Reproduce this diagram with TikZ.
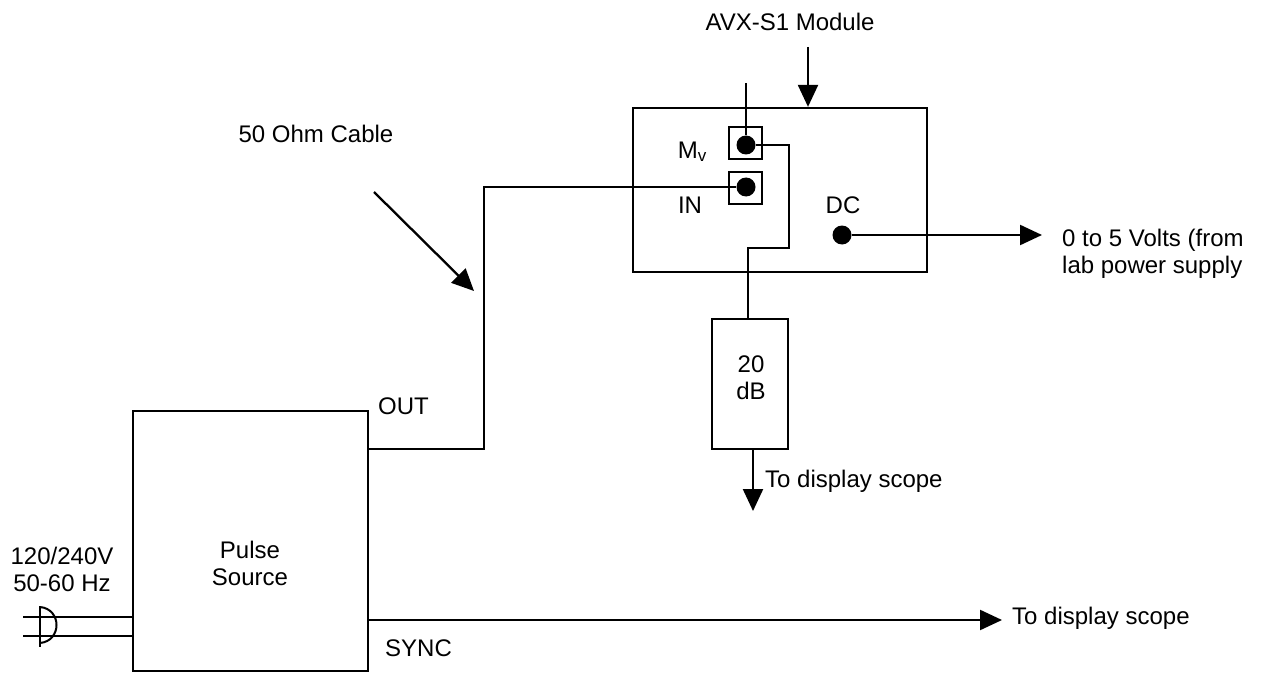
\documentclass[tikz,border=0pt]{standalone}
\usepackage{fontspec}
\setmainfont{Liberation Sans}
\usetikzlibrary{arrows.meta}
\begin{document}
\begin{tikzpicture}[x=1pt,y=-1pt,
  wire/.style={line width=2.3pt},
  arr/.style={line width=2.3pt,-{Triangle[length=22pt,width=20pt]}},
  blk/.style={draw,line width=2.3pt,inner sep=0pt},
  dot/.style={circle,fill,inner sep=0pt,minimum size=19pt},
  lbl/.style={inner sep=0pt,align=center,font=\fontsize{24}{27}\selectfont}]
\useasboundingbox (0,0) rectangle (1264,674);
% module
\node[blk,minimum width=294pt,minimum height=164pt] (module) at (780,190) {};
\node[blk,minimum width=33pt,minimum height=32pt] (mvsq) at (745.5,143) {};
\node[blk,minimum width=33pt,minimum height=32pt] (insq) at (745.5,188) {};
\node[dot] (mvdot) at (746,145) {};
\node[dot] (indot) at (746,187) {};
\node[dot] (dcdot) at (842,235) {};
\node[lbl] (mvl) at (692,152) {M\raisebox{-3pt}{\fontsize{17}{17}\selectfont v}};
\node[lbl] (inl) at (690,205) {IN};
\node[lbl] (dcl) at (843,205) {DC};
\node[lbl] (avx) at (790,22) {AVX-S1 Module};
\coordinate (modtop) at (808,47);
\draw[arr] (modtop) -- (module.north -| modtop);
\coordinate (mvup) at (746,83);
\draw[wire] (mvdot) -- (mvup);
% attenuator
\node[blk,minimum width=76pt,minimum height=130pt] (att) at (750,384) {};
\node[lbl] (attl) at (751,378) {20\\dB};
\draw[wire] (mvdot) -- (789,145) -- (789,248) -- (748,248) -- (748,319);
\coordinate (attout) at (753,511);
\draw[arr] (att.south -| attout) -- (attout);
\node[lbl,anchor=west] (scope1) at (765,481) {To display scope};
% DC
\coordinate (dcout) at (1042,235);
\draw[arr] (dcdot) -- (dcout);
\node[lbl,anchor=west,align=left] (dctxt) at (1062,254) {0 to 5 Volts (from\\lab power supply};
% pulse source
\node[blk,minimum width=235pt,minimum height=260pt] (pulse) at (250.5,541) {};
\node[lbl] (pl) at (250,563) {Pulse\\Source};
\node[lbl,anchor=west] (outl) at (378,406) {OUT};
\node[lbl,anchor=west] (syncl) at (385,648) {SYNC};
\coordinate (outp) at (368,449);
\draw[wire] (outp) -- (484,449) -- (484,187) -- (indot);
\node[lbl] (cablel) at (316,134) {50 Ohm Cable};
\coordinate (cabs) at (374,192);
\coordinate (cabe) at (474,291);
\draw[arr] (cabs) -- (cabe);
\coordinate (syncp) at (368,620);
\coordinate (synce) at (1002,620);
\draw[arr] (syncp) -- (synce);
\node[lbl,anchor=west] (scope2) at (1012,618) {To display scope};
% mains
\node[lbl] (mains) at (62,569) {120/240V\\50-60 Hz};
\coordinate (p1) at (23,617);
\coordinate (p2) at (23,636);
\draw[line width=2pt] (p1) -- (p1 -| pulse.west);
\draw[line width=2pt] (p2) -- (p2 -| pulse.west);
\draw[line width=2pt] (40,606) -- (40,647);
\draw[line width=2pt] (40,607) .. controls (62,609) and (62,641) .. (40,643);
\end{tikzpicture}
\end{document}
